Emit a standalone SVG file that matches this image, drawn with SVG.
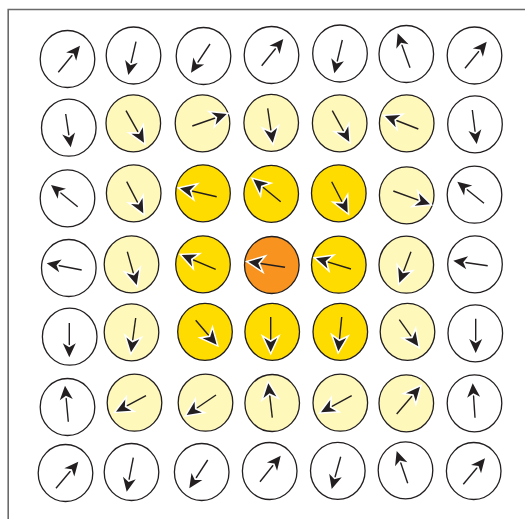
<svg xmlns="http://www.w3.org/2000/svg" width="525" height="519" viewBox="0 0 525 519">
<style>
.c{stroke:#231f20;stroke-width:1.3}
.w{fill:#ffffff}
.l{fill:#fef8bb}
.g{fill:#ffdc00}
.o{fill:#f7931e}
.a{stroke:#231f20;stroke-width:1.4;fill:none;marker-end:url(#ah)}
.frame{stroke:#6a6a6a;stroke-width:1.6;fill:none}
</style>
<defs>
<marker id="ah" markerUnits="userSpaceOnUse" viewBox="-20 -12 26 24" refX="0" refY="0" markerWidth="26" markerHeight="24" orient="auto" overflow="visible">
<path d="M3.5,0 L-18,-10 L-12,0 L-18,10 Z" fill="#ffffff"/>
<path d="M0,0 L-14,-6.5 L-10,0 L-14,6.5 Z" fill="#231f20"/>
</marker>
</defs>
<path class="frame" d="M525,9.5 H8.2 V519"/>

<g id="r1c1"><ellipse class="c w" cx="67.5" cy="59" rx="27.3" ry="28.5"/><line class="a" x1="58.3" y1="72.3" x2="80" y2="45.7"/></g>
<g id="r1c2"><ellipse class="c w" cx="133.5" cy="55.5" rx="27.3" ry="28.5"/><line class="a" x1="136" y1="41.7" x2="128.3" y2="75"/></g>
<g id="r1c3"><ellipse class="c w" cx="203.5" cy="56" rx="27.3" ry="28.5"/><line class="a" x1="210" y1="44" x2="191" y2="72.7"/></g>
<g id="r1c4"><ellipse class="c w" cx="271.5" cy="55" rx="27.3" ry="28.5"/><line class="a" x1="261.7" y1="65.7" x2="283.3" y2="39"/></g>
<g id="r1c5"><ellipse class="c w" cx="340" cy="53.5" rx="27.3" ry="28.5"/><line class="a" x1="342.3" y1="40" x2="334.3" y2="73.3"/></g>
<g id="r1c6"><ellipse class="c w" cx="406.3" cy="54" rx="27.3" ry="28.5"/><line class="a" x1="410" y1="67.7" x2="397.7" y2="33.3"/></g>
<g id="r1c7"><ellipse class="c w" cx="474.5" cy="55.5" rx="27.3" ry="28.5"/><line class="a" x1="465" y1="68.3" x2="486.7" y2="41.7"/></g>

<g id="r2c1"><ellipse class="c w" cx="68.8" cy="127.7" rx="27.3" ry="28.5"/><line class="a" x1="65.7" y1="114" x2="70.7" y2="147.3"/></g>
<g id="r2c2"><ellipse class="c l" cx="133.3" cy="123.3" rx="27.3" ry="28.5"/><line class="a" x1="126" y1="110.7" x2="144" y2="142.7"/></g>
<g id="r2c3"><ellipse class="c l" cx="202.5" cy="123.3" rx="27.3" ry="28.5"/><line class="a" x1="192.3" y1="126" x2="226.7" y2="114"/></g>
<g id="r2c4"><ellipse class="c l" cx="271.2" cy="122.8" rx="27.3" ry="28.5"/><line class="a" x1="267.7" y1="108.3" x2="272.7" y2="142.7"/></g>
<g id="r2c5"><ellipse class="c l" cx="339.7" cy="123.3" rx="27.3" ry="28.5"/><line class="a" x1="332.3" y1="110.7" x2="349.3" y2="141.7"/></g>
<g id="r2c6"><ellipse class="c l" cx="406.7" cy="123.3" rx="27.3" ry="28.5"/><line class="a" x1="418.3" y1="129" x2="385" y2="116"/></g>
<g id="r2c7"><ellipse class="c w" cx="475" cy="124.3" rx="27.3" ry="28.5"/><line class="a" x1="472.3" y1="110" x2="476.7" y2="144"/></g>

<g id="r3c1"><ellipse class="c w" cx="67.5" cy="198.3" rx="27.3" ry="28.5"/><line class="a" x1="77.7" y1="206.7" x2="51" y2="185"/></g>
<g id="r3c2"><ellipse class="c l" cx="133.7" cy="193.3" rx="27.3" ry="28.5"/><line class="a" x1="126.7" y1="181.7" x2="143.3" y2="213.3"/></g>
<g id="r3c3"><ellipse class="c g" cx="203" cy="193.3" rx="27.3" ry="28.5"/><line class="a" x1="216.7" y1="196.7" x2="180" y2="188.3"/></g>
<g id="r3c4"><ellipse class="c g" cx="271.2" cy="193.8" rx="27.3" ry="28.5"/><line class="a" x1="280.7" y1="201.7" x2="253.3" y2="179.3"/></g>
<g id="r3c5"><ellipse class="c g" cx="338.8" cy="193.3" rx="27.3" ry="28.5"/><line class="a" x1="331.7" y1="181.7" x2="347.7" y2="212.7"/></g>
<g id="r3c6"><ellipse class="c l" cx="406.7" cy="195.3" rx="27.3" ry="28.5"/><line class="a" x1="393.3" y1="191" x2="430" y2="204.3"/></g>
<g id="r3c7"><ellipse class="c w" cx="474.5" cy="194.7" rx="27.3" ry="28.5"/><line class="a" x1="484" y1="203.3" x2="457.3" y2="181.7"/></g>

<g id="r4c1"><ellipse class="c w" cx="68.8" cy="268" rx="27.3" ry="28.5"/><line class="a" x1="81.7" y1="270" x2="46.7" y2="263.3"/></g>
<g id="r4c2"><ellipse class="c l" cx="131.5" cy="264.3" rx="27.3" ry="28.5"/><line class="a" x1="127.3" y1="251.7" x2="136.7" y2="285"/></g>
<g id="r4c3"><ellipse class="c g" cx="203" cy="264.3" rx="27.3" ry="28.5"/><line class="a" x1="215.7" y1="269.3" x2="181.7" y2="255"/></g>
<g id="r4c4"><ellipse class="c o" cx="271.8" cy="265" rx="27.3" ry="28.5"/><line class="a" x1="285" y1="267.3" x2="248.3" y2="261.7"/></g>
<g id="r4c5"><ellipse class="c g" cx="338.8" cy="264.7" rx="27.3" ry="28.5"/><line class="a" x1="351" y1="269" x2="316" y2="258.3"/></g>
<g id="r4c6"><ellipse class="c l" cx="406.3" cy="264.7" rx="27.3" ry="28.5"/><line class="a" x1="411" y1="251.7" x2="399.3" y2="282.7"/></g>
<g id="r4c7"><ellipse class="c w" cx="475" cy="264.3" rx="27.3" ry="28.5"/><line class="a" x1="487.7" y1="265.7" x2="453.3" y2="260.7"/></g>

<g id="r5c1"><ellipse class="c w" cx="69.7" cy="336.7" rx="27.3" ry="28.5"/><line class="a" x1="69.3" y1="323" x2="69.3" y2="357.3"/></g>
<g id="r5c2"><ellipse class="c l" cx="131.5" cy="332.3" rx="27.3" ry="28.5"/><line class="a" x1="135.7" y1="318" x2="131" y2="352.3"/></g>
<g id="r5c3"><ellipse class="c g" cx="205" cy="331.8" rx="27.3" ry="28.5"/><line class="a" x1="195.7" y1="320.3" x2="216.7" y2="344.7"/></g>
<g id="r5c4"><ellipse class="c g" cx="272.2" cy="331.8" rx="27.3" ry="28.5"/><line class="a" x1="270.7" y1="317" x2="270.7" y2="352"/></g>
<g id="r5c5"><ellipse class="c g" cx="340.3" cy="331.8" rx="27.3" ry="28.5"/><line class="a" x1="341.7" y1="317" x2="338.3" y2="351.3"/></g>
<g id="r5c6"><ellipse class="c l" cx="407.5" cy="331.8" rx="27.3" ry="28.5"/><line class="a" x1="399.3" y1="319.7" x2="418.3" y2="346.3"/></g>
<g id="r5c7"><ellipse class="c w" cx="475.3" cy="333.3" rx="27.3" ry="28.5"/><line class="a" x1="475.7" y1="318.7" x2="475.7" y2="353"/></g>

<g id="r6c1"><ellipse class="c w" cx="67.5" cy="407" rx="27.3" ry="28.5"/><line class="a" x1="68.3" y1="421.7" x2="65" y2="385.7"/></g>
<g id="r6c2"><ellipse class="c l" cx="134.5" cy="402.7" rx="27.3" ry="28.5"/><line class="a" x1="146" y1="395.7" x2="116" y2="411.7"/></g>
<g id="r6c3"><ellipse class="c l" cx="205.5" cy="402.7" rx="27.3" ry="28.5"/><line class="a" x1="216" y1="395" x2="186.7" y2="415"/></g>
<g id="r6c4"><ellipse class="c l" cx="272.2" cy="403" rx="27.3" ry="28.5"/><line class="a" x1="272.3" y1="417.7" x2="268.3" y2="383.3"/></g>
<g id="r6c5"><ellipse class="c l" cx="340.3" cy="402.7" rx="27.3" ry="28.5"/><line class="a" x1="351.7" y1="395.7" x2="321" y2="412.3"/></g>
<g id="r6c6"><ellipse class="c l" cx="406.3" cy="403.3" rx="27.3" ry="28.5"/><line class="a" x1="396.7" y1="414" x2="420" y2="386.7"/></g>
<g id="r6c7"><ellipse class="c w" cx="474.5" cy="403.3" rx="27.3" ry="28.5"/><line class="a" x1="475" y1="417.7" x2="472.7" y2="383.3"/></g>

<g id="r7c1"><ellipse class="c w" cx="65.5" cy="473" rx="27.3" ry="28.5"/><line class="a" x1="56" y1="488.3" x2="78.3" y2="461.7"/></g>
<g id="r7c2"><ellipse class="c w" cx="131.5" cy="472" rx="27.3" ry="28.5"/><line class="a" x1="133.3" y1="457.7" x2="126.7" y2="491.7"/></g>
<g id="r7c3"><ellipse class="c w" cx="201.7" cy="472" rx="27.3" ry="28.5"/><line class="a" x1="207.7" y1="460" x2="189.3" y2="488.3"/></g>
<g id="r7c4"><ellipse class="c w" cx="269.7" cy="471" rx="27.3" ry="28.5"/><line class="a" x1="260" y1="481.7" x2="280.7" y2="455.7"/></g>
<g id="r7c5"><ellipse class="c w" cx="337.8" cy="470.8" rx="27.3" ry="28.5"/><line class="a" x1="340.7" y1="456.7" x2="331.7" y2="489"/></g>
<g id="r7c6"><ellipse class="c w" cx="405.5" cy="470.3" rx="27.3" ry="28.5"/><line class="a" x1="407.7" y1="483.3" x2="396.7" y2="451"/></g>
<g id="r7c7"><ellipse class="c w" cx="473.7" cy="471" rx="27.3" ry="28.5"/><line class="a" x1="463.3" y1="484.3" x2="485" y2="458.3"/></g>
</svg>
